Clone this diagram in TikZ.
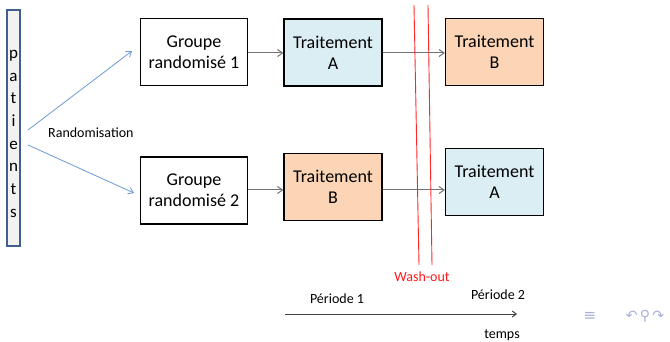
\documentclass[tikz,border=0pt]{standalone}
\usepackage{fontspec}
\setmainfont{Carlito}
\newfontfamily\symfont{DejaVu Sans}
\usetikzlibrary{arrows.meta}
\definecolor{lblue}{HTML}{DBEEF4}
\definecolor{lorange}{HTML}{FBD5B5}
\definecolor{arrblue}{HTML}{6A9AD4}
\definecolor{barblue}{HTML}{3F5F8F}
\definecolor{navc}{HTML}{A8B0D8}
\tikzset{
  box/.style={draw=black, line width=1.2pt, minimum width=107pt, minimum height=67pt, align=center, font=\fontsize{18}{21}\selectfont, inner sep=0pt},
  trt/.style={box, minimum width=98pt},
  flow/.style={draw=black!55, line width=1pt, -{Straight Barb[length=5pt,width=7pt]}},
  rand/.style={draw=arrblue, line width=0.8pt, -{Straight Barb[length=5pt,width=7pt]}},
  wash/.style={draw=red!85, line width=0.9pt},
  lab/.style={font=\fontsize{14}{16}\selectfont, inner sep=0pt},
}
\begin{document}
\begin{tikzpicture}[x=1pt,y=-1pt]
\useasboundingbox (0,0) rectangle (670,342);
% patients bar
\node[draw=barblue, fill=black!5, line width=1.2pt, minimum width=13pt, minimum height=236pt, inner sep=0pt] (pat) at (13.5,128) {};
\foreach \l [count=\i from 0] in {p,a,t,i,e,n,t,s}
  \node[font=\fontsize{17}{17}\selectfont, inner sep=0pt] (l\i) at (13.5,{55+\i*22.7}) {\strut\l};
% random coordinates
\coordinate (r1) at (28,130);
\coordinate (r2) at (28,145);
\coordinate (e1) at (132,51);
\coordinate (e2) at (134,193);
% boxes
\node[box] (g1) at (194,52) {Groupe\\randomisé 1};
\node[box] (g2) at (194,190.5) {Groupe\\randomisé 2};
\node[trt, fill=lblue] (tA1) at (333,52.5) {Traitement\\A};
\node[trt, fill=lorange] (tB1) at (333,187) {Traitement\\B};
\node[trt, fill=lorange] (tB2) at (494.5,52) {Traitement\\B};
\node[trt, fill=lblue] (tA2) at (494.5,182) {Traitement\\A};
% randomisation arrows
\draw[rand] (r1) -- (e1);
\draw[rand] (r2) -- (e2);
\node[lab, anchor=west] (rlab) at (48,133) {Randomisation};
% flow arrows
\draw[flow] (g1.east |- 0,53) -- (tA1.west |- 0,53);
\draw[flow] (tA1.east |- 0,53) -- (tB2.west |- 0,53);
\draw[flow] (g2.east |- 0,190) -- (tB1.west |- 0,190);
\draw[flow] (tB1.east |- 0,190) -- (tA2.west |- 0,190);
% wash-out lines
\coordinate (w1a) at (414,5); \coordinate (w1b) at (419,265);
\coordinate (w2a) at (428,5); \coordinate (w2b) at (432,265);
\draw[wash] (w1a) -- (w1b);
\draw[wash] (w2a) -- (w2b);
\node[lab, text=red!90] (wo) at (422,277) {Wash-out};
% time axis
\node[lab] (p1) at (337,299) {Période 1};
\node[lab] (p2) at (498,295) {Période 2};
\coordinate (t0) at (285,314);
\coordinate (t1) at (517,314);
\draw[draw=black!75, line width=1pt, -{Straight Barb[length=4pt,width=6pt]}] (t0) -- (t1);
\node[lab] (tp) at (502,335) {temps};
% navigation symbols
\node[text=navc, font=\symfont\fontsize{15}{15}\selectfont, inner sep=0pt] (nav1) at (590,316) {≡};
\node[text=navc, font=\symfont\fontsize{14}{14}\selectfont, inner sep=0pt] (nav2) at (645,316) {↶\,⚲\,↷};
\end{tikzpicture}
\end{document}
